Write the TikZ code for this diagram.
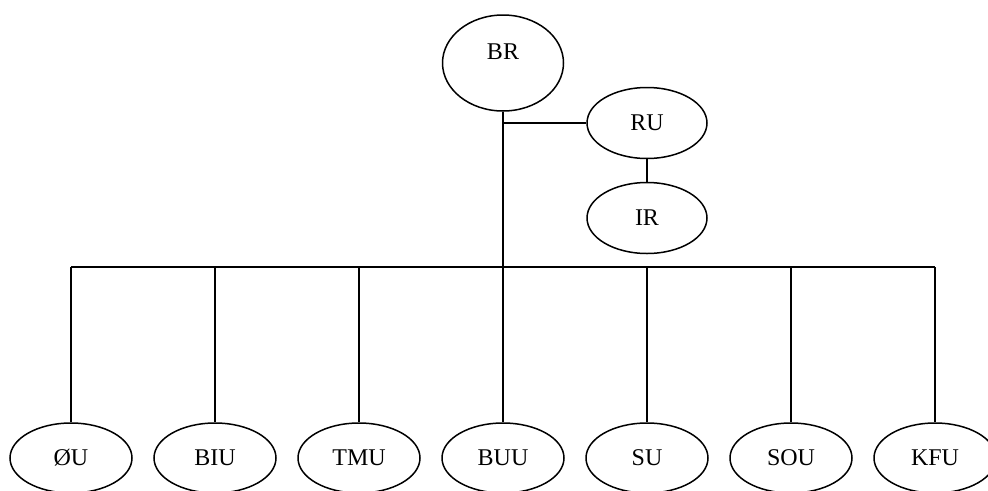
\documentclass[tikz,border=0pt]{standalone}
\usepackage{fontspec}
\setmainfont{Liberation Serif}
\usetikzlibrary{shapes.geometric}
\begin{document}
\begin{tikzpicture}[x=1pt,y=-1pt,
  unit/.style={draw, ellipse, line width=1.5pt, inner sep=0pt, font=\fontsize{24}{28}\selectfont},
  big/.style={unit, minimum width=121pt, minimum height=96pt},
  mid/.style={unit, minimum width=120pt, minimum height=71pt},
  low/.style={unit, minimum width=122pt, minimum height=70pt},
  lbl/.style={font=\fontsize{24}{28}\selectfont, inner sep=0pt},
  conn/.style={line width=1.5pt},
  trunk/.style={line width=2.2pt}]
\useasboundingbox (0,0) rectangle (988,490);
\clip (0,0) rectangle (988,490);
% top
\node[big] (BR) at (503,63) {};
\node[lbl] (BRtext) at ([yshift=11pt]BR.center) {BR};
\node[mid] (RU) at (647,123) {RU};
\node[mid] (IR) at (647,218) {IR};
% bottom
\node[low] (OU)  at (71,458)  {ØU};
\node[low] (BIU) at (215,458) {BIU};
\node[low] (TMU) at (359,458) {TMU};
\node[low] (BUU) at (503,458) {BUU};
\node[low] (SU)  at (647,458) {SU};
\node[low] (SOU) at (791,458) {SOU};
\node[low] (KFU) at (935,458) {KFU};
% connectors
\coordinate (bus) at (503,267);
\coordinate (br) at (BR.south |- RU.west);
\draw[trunk] (BR.south) -- (BR.south |- bus);
\draw[conn] (br) -- (RU.west);
\draw[conn] (RU.south) -- (IR.north);
\draw[conn] (OU.north |- bus) -- (KFU.north |- bus);
\foreach \n in {OU,BIU,TMU,BUU,SU,SOU,KFU}
  \draw[conn] (\n.north |- bus) -- (\n.north);
\end{tikzpicture}
\end{document}
